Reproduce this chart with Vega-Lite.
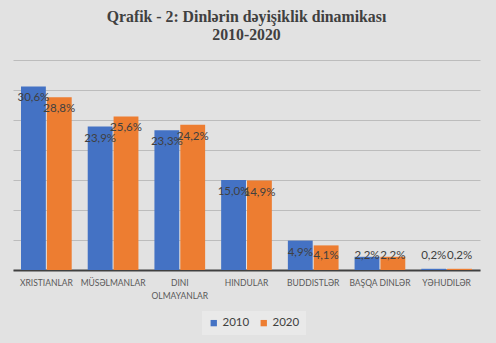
{
  "$schema": "https://vega.github.io/schema/vega-lite/v6.json",
  "width": 467,
  "height": 210,
  "autosize": {"type": "none"},
  "padding": {"left": 13, "top": 60, "right": 16, "bottom": 73},
  "background": "#e2e2e2",
  "title": {
    "text": ["Qrafik - 2: Dinlərin dəyişiklik dinamikası", "2010-2020"],
    "font": "Liberation Serif",
    "fontSize": 15.8,
    "fontWeight": "bold",
    "color": "#404040",
    "anchor": "middle",
    "lineHeight": 18,
    "offset": 16
  },
  "data": {
    "values": [
      {"category": "Xristianlar", "year": "2010", "value": 30.6},
      {"category": "Xristianlar", "year": "2020", "value": 28.8},
      {"category": "Müsəlmanlar", "year": "2010", "value": 23.9},
      {"category": "Müsəlmanlar", "year": "2020", "value": 25.6},
      {"category": "Dini olmayanlar", "year": "2010", "value": 23.3},
      {"category": "Dini olmayanlar", "year": "2020", "value": 24.2},
      {"category": "Hindular", "year": "2010", "value": 15.0},
      {"category": "Hindular", "year": "2020", "value": 14.9},
      {"category": "Buddistlər", "year": "2010", "value": 4.9},
      {"category": "Buddistlər", "year": "2020", "value": 4.1},
      {"category": "Başqa dinlər", "year": "2010", "value": 2.2},
      {"category": "Başqa dinlər", "year": "2020", "value": 2.2},
      {"category": "Yəhudilər", "year": "2010", "value": 0.2},
      {"category": "Yəhudilər", "year": "2020", "value": 0.2}
    ]
  },
  "encoding": {
    "x": {
      "field": "category",
      "type": "nominal",
      "sort": null,
      "scale": {"paddingInner": 0.24, "paddingOuter": 0.12},
      "axis": {
        "title": null,
        "labelAngle": 0,
        "labelExpr": "datum.value == 'Dini olmayanlar' ? ['DINI', 'OLMAYANLAR'] : upper(datum.value)",
        "labelFont": "Lato",
        "labelFontSize": 8.5,
        "labelColor": "#595959",
        "labelPadding": 8,
        "labelLineHeight": 13,
        "ticks": false,
        "domainColor": "#404040",
        "domainWidth": 2
      }
    },
    "xOffset": {"field": "year", "type": "nominal", "scale": {"paddingInner": 0.04}}
  },
  "layer": [
    {
      "mark": {"type": "bar"},
      "encoding": {
        "y": {
          "field": "value",
          "type": "quantitative",
          "scale": {"domain": [0, 35], "nice": false},
          "axis": {
            "title": null,
            "labels": false,
            "ticks": false,
            "domain": false,
            "grid": true,
            "values": [0, 5, 10, 15, 20, 25, 30, 35],
            "gridColor": "#bcbcbc",
            "gridOpacity": 1,
            "gridWidth": 1
          }
        },
        "color": {
          "field": "year",
          "type": "nominal",
          "scale": {"range": ["#4472C4", "#ED7D31"]},
          "legend": {
            "title": null,
            "orient": "none",
            "legendX": 189,
            "legendY": 251,
            "direction": "horizontal",
            "symbolType": "square",
            "symbolSize": 40,
            "symbolStrokeWidth": 0,
            "labelFont": "Lato",
            "labelFontSize": 11.5,
            "labelOffset": 3,
            "labelColor": "#404040",
            "fillColor": "#e9e9e9",
            "padding": 6,
            "columnPadding": 8
          }
        }
      }
    },
    {
      "transform": [
        {"calculate": "max(datum.value, 4.3)", "as": "labelY"},
        {"calculate": "replace(format(datum.value, '.1f'), '.', ',') + '%'", "as": "label"}
      ],
      "mark": {"type": "text", "dy": 12, "fontSize": 11.5, "font": "Lato", "color": "#404040"},
      "encoding": {
        "y": {"field": "labelY", "type": "quantitative", "axis": null},
        "text": {"field": "label"}
      }
    }
  ],
  "resolve": {"axis": {"y": "independent"}},
  "config": {"view": {"stroke": null}}
}
